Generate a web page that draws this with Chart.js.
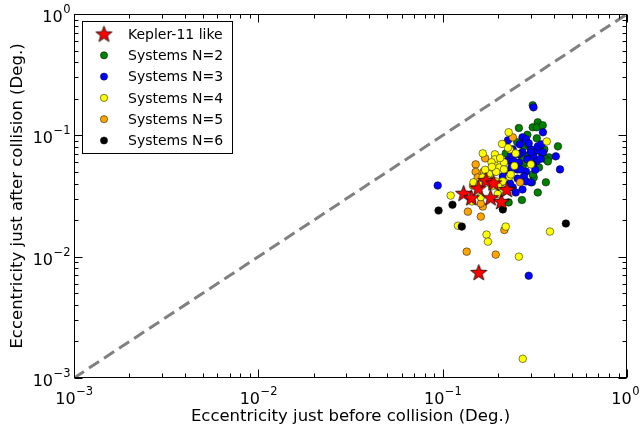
<!DOCTYPE html>
<html>
<head>
<meta charset="utf-8">
<script src="https://cdn.jsdelivr.net/npm/chart.js@4.4.0/dist/chart.umd.min.js"></script>
<style>
  html, body { margin: 0; padding: 0; background: #fff; }
  #wrap { width: 640px; height: 436px; position: relative; }
</style>
</head>
<body>
<div id="wrap"><canvas id="c"></canvas></div>
<script>
// axis decades and their labels (base and exponent)
const decades = [0.001, 0.01, 0.1, 1];
const tickBase = '10';
const tickExps = ['-3', '-2', '-1', '0'];

// Kepler-11 like systems
const keplerBefore = [0.130, 0.143, 0.156, 0.172, 0.189, 0.182, 0.208, 0.223, 0.157];
const keplerAfter  = [0.0333, 0.0306, 0.0367, 0.0425, 0.0406, 0.0306, 0.0285, 0.0358, 0.00742];

// N=2
const n2Before = [0.308, 0.328, 0.308, 0.324, 0.259, 0.324, 0.422, 0.254, 0.276, 0.356, 0.220, 0.377, 0.245,
  0.271, 0.333, 0.363, 0.363, 0.305, 0.312, 0.328, 0.228, 0.269, 0.372, 0.308, 0.234, 0.288, 0.296, 0.345,
  0.283, 0.349, 0.290, 0.270, 0.245];
const n2After = [0.177, 0.128, 0.1165, 0.1165, 0.115, 0.0945, 0.0811, 0.0875, 0.0811, 0.0766, 0.071, 0.0659, 0.0697,
  0.0554, 0.0544, 0.0634, 0.041, 0.041, 0.045, 0.0338, 0.028, 0.0293, 0.061, 0.0476, 0.0634, 0.101, 0.069, 0.072,
  0.060, 0.121, 0.085, 0.066, 0.058];

// N=3
const n3Before = [0.094, 0.293, 0.311, 0.350, 0.271, 0.283, 0.226, 0.301, 0.328, 0.240, 0.271, 0.311, 0.411,
  0.226, 0.240, 0.259, 0.254, 0.283, 0.288, 0.301, 0.322, 0.350, 0.328, 0.226, 0.276, 0.212, 0.240, 0.249,
  0.283, 0.271, 0.263, 0.301, 0.433, 0.343, 0.308, 0.262, 0.293, 0.318, 0.236, 0.255, 0.232, 0.340,
  0.260, 0.300, 0.235];
const n3After = [0.0386, 0.00697, 0.170, 0.106, 0.0962, 0.093, 0.091, 0.0766, 0.075, 0.0766, 0.0724, 0.0671, 0.0671,
  0.0621, 0.0634, 0.0598, 0.0524, 0.0504, 0.0634, 0.0724, 0.061, 0.0724, 0.0811, 0.050, 0.0458, 0.0458, 0.0372, 0.0338,
  0.0417, 0.0358, 0.0524, 0.041, 0.0524, 0.0843, 0.0576, 0.0843, 0.086, 0.052, 0.0545, 0.044, 0.040, 0.064,
  0.070, 0.058, 0.069];

// N=4
const n4Before = [0.259, 0.272, 0.121, 0.173, 0.176, 0.220, 0.382, 0.1105, 0.144, 0.147, 0.165, 0.165, 0.192,
  0.192, 0.192, 0.203, 0.215, 0.231, 0.228, 0.367, 0.226, 0.249, 0.212, 0.231, 0.234, 0.215, 0.301, 0.212,
  0.199, 0.194, 0.161, 0.178, 0.184, 0.205, 0.170, 0.185, 0.158, 0.195, 0.245, 0.210, 0.185, 0.175, 0.200];
const n4After = [0.0100, 0.00144, 0.0180, 0.0152, 0.0133, 0.0177, 0.0161, 0.0319, 0.0285, 0.041, 0.045, 0.071, 0.0697,
  0.0634, 0.0565, 0.0544, 0.0598, 0.0766, 0.106, 0.089, 0.079, 0.071, 0.0417, 0.0458, 0.0476, 0.0524, 0.0576, 0.0358,
  0.0328, 0.0417, 0.031, 0.048, 0.060, 0.065, 0.052, 0.038, 0.039, 0.050, 0.056, 0.085, 0.055, 0.043, 0.038];

// N=5
const n5Before = [0.135, 0.194, 0.137, 0.161, 0.216, 0.165, 0.151, 0.151, 0.170, 0.167, 0.207, 0.240, 0.263,
  0.161, 0.146, 0.178, 0.155];
const n5After = [0.0110, 0.0104, 0.0235, 0.0214, 0.0166, 0.0259, 0.0576, 0.050, 0.0646, 0.0504, 0.041, 0.0962, 0.041,
  0.0274, 0.0386, 0.043, 0.045];

// N=6
const n6Before = [0.095, 0.113, 0.127, 0.212, 0.466];
const n6After  = [0.024, 0.0268, 0.0177, 0.0245, 0.01875];

const pairs = (xs, ys) => xs.map((x, i) => ({ x: x, y: ys[i] }));

function makeStar(r, fill) {
  const s = Math.ceil(r * 2 + 4);
  const c = document.createElement('canvas');
  c.width = s; c.height = s;
  const g = c.getContext('2d');
  g.beginPath();
  for (let i = 0; i < 10; i++) {
    const rr = i % 2 ? r * 0.42 : r;
    const a = -Math.PI / 2 + i * Math.PI / 5;
    g.lineTo(s / 2 + rr * Math.cos(a), s / 2 + 0.6 + rr * Math.sin(a));
  }
  g.closePath();
  g.fillStyle = fill;
  g.fill();
  g.lineWidth = 0.8;
  g.strokeStyle = '#000';
  g.stroke();
  return c;
}
const starImg = makeStar(8.5, '#ff0000');

function dots(label, xs, ys, color, order) {
  return {
    type: 'scatter', label: label, data: pairs(xs, ys), order: order,
    pointRadius: 3.8, pointBackgroundColor: color, pointBorderColor: 'rgba(0,0,0,0.7)',
    pointBorderWidth: 0.7
  };
}

const datasets = [
  { type: 'scatter', label: 'Kepler-11 like', data: pairs(keplerBefore, keplerAfter), order: 1,
    pointStyle: starImg, pointRadius: 8 },
  dots('Systems N=2', n2Before, n2After, '#008000', 6),
  dots('Systems N=3', n3Before, n3After, '#0000ff', 5),
  dots('Systems N=4', n4Before, n4After, '#ffff00', 3),
  dots('Systems N=5', n5Before, n5After, '#ffa500', 4),
  dots('Systems N=6', n6Before, n6After, '#000000', 2),
  { type: 'line', label: 'diag', data: [{ x: 0.001, y: 0.001 }, { x: 1, y: 1 }], order: 10,
    borderColor: '#808080', borderWidth: 3, borderDash: [12, 6], pointRadius: 0, fill: false }
];

// ticks at 1..9 x 10^n for the minor marks
function logTicks() {
  const out = [];
  decades.forEach((d, i) => {
    out.push({ value: d });
    if (i < decades.length - 1) for (let m = 2; m <= 9; m++) out.push({ value: m * d });
  });
  return out;
}

const baseFont = '16px "DejaVu Sans"';
const expFont = '11.5px "DejaVu Sans"';

// box, inward ticks, power-of-ten labels, legend
const frame = {
  id: 'frame',
  afterDatasetsDraw(chart) {
    const { ctx, chartArea: a, scales } = chart;
    const L = a.left + 0.5, R = a.right - 0.5, T = a.top + 0.5, B = a.bottom - 0.5;
    ctx.save();
    ctx.strokeStyle = '#000';
    ctx.lineWidth = 1;
    ctx.beginPath();
    scales.x.ticks.forEach(t => {
      const p = Math.round(scales.x.getPixelForValue(t.value)) + 0.5;
      const len = decades.includes(t.value) ? 8 : 4;
      ctx.moveTo(p, B); ctx.lineTo(p, B - len);
      ctx.moveTo(p, T); ctx.lineTo(p, T + len);
    });
    scales.y.ticks.forEach(t => {
      const p = Math.round(scales.y.getPixelForValue(t.value)) + 0.5;
      const len = decades.includes(t.value) ? 8 : 4;
      ctx.moveTo(L, p); ctx.lineTo(L + len, p);
      ctx.moveTo(R, p); ctx.lineTo(R - len, p);
    });
    ctx.stroke();
    ctx.strokeRect(L, T, R - L, B - T);

    // tick labels as 10 with a raised exponent
    ctx.fillStyle = '#000';
    ctx.textBaseline = 'alphabetic';
    ctx.textAlign = 'left';
    decades.forEach((d, i) => {
      const e = tickExps[i].replace('-', '\u2212');
      ctx.font = baseFont;
      const wb = ctx.measureText(tickBase).width;
      ctx.font = expFont;
      const we = ctx.measureText(e).width;
      // x axis
      const px = scales.x.getPixelForValue(d);
      const x0 = Math.min(px - (wb + we) / 2, 639 - wb - we);
      ctx.font = baseFont;
      ctx.fillText(tickBase, x0, 404);
      ctx.font = expFont;
      ctx.fillText(e, x0 + wb + 0.5, 395);
      // y axis
      const py = scales.y.getPixelForValue(d);
      const y0 = 70 - wb - we;
      ctx.font = baseFont;
      ctx.fillText(tickBase, y0, py + 8);
      ctx.font = expFont;
      ctx.fillText(e, y0 + wb + 0.5, py - 1);
    });

    // legend
    const bx = 82.5, by = 21.5, bw = 150, bh = 132;
    ctx.fillStyle = '#fff';
    ctx.fillRect(bx, by, bw, bh);
    ctx.strokeRect(bx, by, bw, bh);
    ctx.font = '14px "DejaVu Sans"';
    ctx.textBaseline = 'middle';
    datasets.slice(0, 6).forEach((ds, i) => {
      const cy = 34 + i * 21.3;
      if (i === 0) {
        ctx.drawImage(starImg, 104 - starImg.width / 2, cy - starImg.height / 2);
      } else {
        ctx.beginPath();
        ctx.arc(104, cy, 3.6, 0, Math.PI * 2);
        ctx.fillStyle = ds.pointBackgroundColor;
        ctx.fill();
        ctx.lineWidth = 0.7;
        ctx.strokeStyle = 'rgba(0,0,0,0.7)';
        ctx.stroke();
      }
      ctx.fillStyle = '#000';
      ctx.fillText(ds.label, 128, cy + 1);
    });
    ctx.restore();
  }
};

Chart.defaults.font.family = '"DejaVu Sans", sans-serif';
Chart.defaults.color = '#000';

new Chart(document.getElementById('c'), {
  data: { datasets: datasets },
  options: {
    responsive: true,
    maintainAspectRatio: false,
    animation: false,
    layout: { padding: { top: 14, right: 13, left: 0, bottom: 0 } },
    plugins: { legend: { display: false }, tooltip: { enabled: false } },
    scales: {
      x: {
        type: 'logarithmic', position: 'bottom', min: 0.001, max: 1,
        grid: { display: false, drawTicks: false },
        border: { display: false },
        afterBuildTicks: s => { s.ticks = logTicks(); },
        afterFit: s => { s.height = 58; s.paddingLeft = 0; s.paddingRight = 0; },
        ticks: { autoSkip: false, maxRotation: 0, minRotation: 0, padding: 8,
          font: { size: 16 }, callback: () => '' },
        title: { display: true, text: 'Eccentricity just before collision (Deg.)',
          font: { size: 16.5 }, padding: { top: 9, bottom: 9 } }
      },
      y: {
        type: 'logarithmic', position: 'left', min: 0.001, max: 1,
        grid: { display: false, drawTicks: false },
        border: { display: false },
        afterBuildTicks: s => { s.ticks = logTicks(); },
        afterFit: s => { s.width = 74; s.paddingTop = 0; s.paddingBottom = 0; },
        ticks: { autoSkip: false, padding: 5, font: { size: 16 }, callback: () => '' },
        title: { display: true, text: 'Eccentricity just after collision (Deg.)',
          font: { size: 16.5 }, padding: { top: 8, bottom: 8 } }
      }
    }
  },
  plugins: [frame]
});
</script>
</body>
</html>
